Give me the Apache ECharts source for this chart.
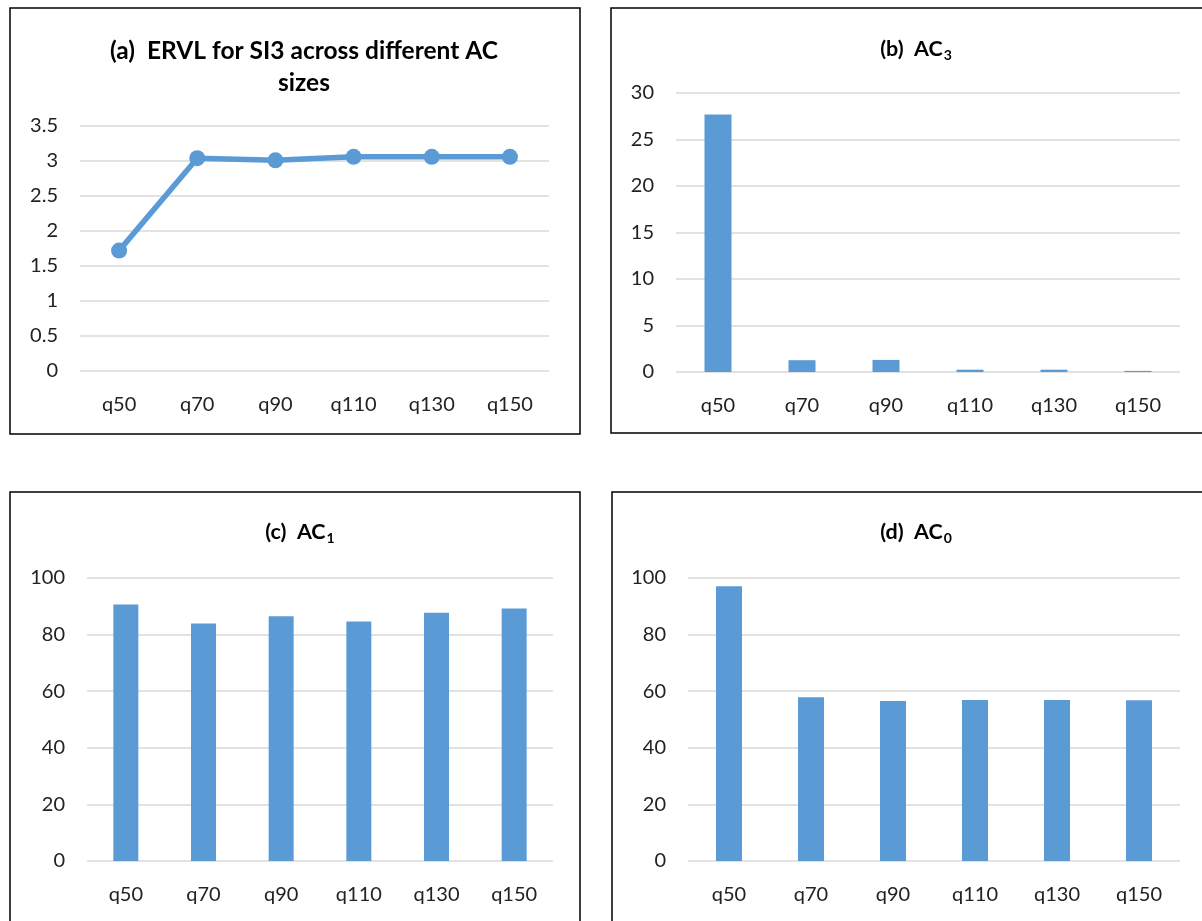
<!DOCTYPE html>
<html>
<head>
<meta charset="utf-8">
<script src="https://cdn.jsdelivr.net/npm/echarts@6/dist/echarts.min.js"></script>
<style>
  html, body { margin: 0; padding: 0; background: #fff; }
  #chart { width: 1202px; height: 921px; }
</style>
</head>
<body>
<div id="chart"></div>
<script>
// Shared category axis: AC sizes
const categories = ['q50', 'q70', 'q90', 'q110', 'q130', 'q150'];

// (a) ERVL for SI3 per AC size
const ervlValues = [1.72, 3.04, 3.01, 3.06, 3.06, 3.06];
// (b) AC3 counts
const ac3Values = [27.7, 1.27, 1.3, 0.25, 0.25, 0.12];
// (c) AC1 counts
const ac1Values = [90.6, 83.9, 86.5, 84.6, 87.7, 89.2];
// (d) AC0 counts
const ac0Values = [97.1, 57.9, 56.5, 56.9, 56.9, 56.8];

// Y-axis ranges per panel
const yRanges = [
  { min: 0, max: 3.5, interval: 0.5 },
  { min: 0, max: 30, interval: 5 },
  { min: 0, max: 100, interval: 20 },
  { min: 0, max: 100, interval: 20 }
];

const BLUE = '#5b9bd5';
const GRID_LINE = '#d9d9d9';
const FONT = 'Lato, "Open Sans", sans-serif';
const LABEL_COLOR = '#222';

const grids = [
  { left: 80, top: 126, width: 469, height: 245 },
  { left: 676, top: 93, width: 504, height: 279 },
  { left: 87, top: 578, width: 466, height: 283 },
  { left: 688, top: 578, width: 492, height: 283 }
];

const xAxes = grids.map((g, i) => ({
  type: 'category',
  gridIndex: i,
  data: categories,
  axisLine: { show: false },
  axisTick: { show: false },
  axisLabel: { color: LABEL_COLOR, fontFamily: FONT, fontSize: 20, margin: 24 }
}));

const yAxes = yRanges.map((r, i) => ({
  type: 'value',
  gridIndex: i,
  min: r.min,
  max: r.max,
  interval: r.interval,
  axisLine: { show: false },
  axisTick: { show: false },
  splitLine: { lineStyle: { color: GRID_LINE, width: 1.5 } },
  axisLabel: { color: LABEL_COLOR, fontFamily: FONT, fontSize: 20, margin: 22 }
}));

const titleRich = {
  m: { fontFamily: FONT, fontWeight: 'bold', fontSize: 21.5, color: '#000' },
  s: { fontFamily: FONT, fontWeight: 'bold', fontSize: 14, color: '#000', padding: [12, 0, 0, 1] }
};

const titles = [
  {
    text: '(a)  ERVL for SI3 across different AC\nsizes',
    left: 299, top: 30, textAlign: 'center',
    textStyle: { fontFamily: FONT, fontWeight: 'bold', fontSize: 24.5, color: '#000', lineHeight: 32 }
  },
  { text: '{m|(b)  AC}{s|3}', left: 911, top: 31, textAlign: 'center', textStyle: { rich: titleRich } },
  { text: '{m|(c)  AC}{s|1}', left: 295, top: 514, textAlign: 'center', textStyle: { rich: titleRich } },
  { text: '{m|(d)  AC}{s|0}', left: 911, top: 514, textAlign: 'center', textStyle: { rich: titleRich } }
];

// Panel frames
const frames = [
  { x: 10, y: 8, width: 570, height: 426 },
  { x: 611, y: 8, width: 600, height: 425 },
  { x: 10, y: 492, width: 570, height: 440 },
  { x: 612, y: 492, width: 600, height: 440 }
].map(s => ({
  type: 'rect',
  shape: s,
  style: { fill: 'none', stroke: '#000', lineWidth: 1.5 },
  z: -1
}));

const option = {
  backgroundColor: '#fff',
  animation: false,
  title: titles,
  grid: grids,
  xAxis: xAxes,
  yAxis: yAxes,
  graphic: frames,
  series: [
    {
      type: 'line',
      xAxisIndex: 0, yAxisIndex: 0,
      data: ervlValues,
      symbol: 'circle',
      symbolSize: 16,
      lineStyle: { color: BLUE, width: 5.5 },
      itemStyle: { color: BLUE }
    },
    {
      type: 'bar', xAxisIndex: 1, yAxisIndex: 1,
      data: ac3Values, barWidth: 27, itemStyle: { color: BLUE }
    },
    {
      type: 'bar', xAxisIndex: 2, yAxisIndex: 2,
      data: ac1Values, barWidth: 25, itemStyle: { color: BLUE }
    },
    {
      type: 'bar', xAxisIndex: 3, yAxisIndex: 3,
      data: ac0Values, barWidth: 26, itemStyle: { color: BLUE }
    }
  ]
};

const chart = echarts.init(document.getElementById('chart'), null, { renderer: 'canvas' });
chart.setOption(option);
</script>
</body>
</html>
